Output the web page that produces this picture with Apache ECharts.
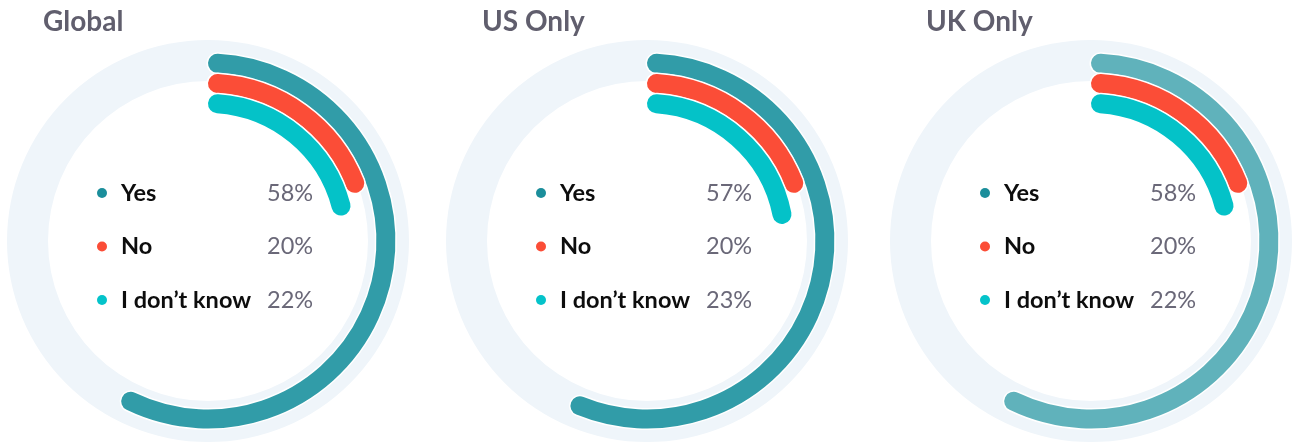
<!DOCTYPE html>
<html><head><meta charset="utf-8">
<script src="https://cdn.jsdelivr.net/npm/echarts@6/dist/echarts.min.js"></script>
<style>html,body{margin:0;padding:0;background:#fff}#c{width:1293px;height:442px}</style>
</head><body><div id="c"></div>
<script>
// ---- data ----
const chartTitles = ['Global', 'US Only', 'UK Only'];
const answers = ['Yes', 'No', 'I don\u2019t know'];
const globalValues = [58, 20, 22];
const usValues = [57, 20, 23];
const ukValues = [58, 20, 22];
const ringOrder = ['I don\u2019t know', 'No', 'Yes']; // inner -> outer

// ---- layout & style ----
const valuesByChart = [globalValues, usValues, ukValues];
const centersX = [208, 647, 1091];
const CY = 241;
const arcColors = [
  ['#319ca8', '#fb4d37', '#04c2c8'],
  ['#319ca8', '#fb4d37', '#04c2c8'],
  ['#60b2bb', '#fb4d37', '#04c2c8']
];
const dotColors = ['#1b8e9b', '#fb4d37', '#04c3ca'];
const LW = 19;
const FONT = 'Lato';
const FS = 23.5;

function makeRender(color) {
  return function (params, api) {
    const cat = api.value(0), v = api.value(1);
    const a = api.coord([cat, 0]);
    const b = api.coord([cat, v]);
    const cx = params.coordSys.cx, cy = params.coordSys.cy;
    const r = a[2];
    const cap = (LW / 2) / r;
    const s = Math.atan2(a[1] - cy, a[0] - cx) + cap;
    const e = Math.atan2(b[1] - cy, b[0] - cx) - cap;
    const shape = { cx: cx, cy: cy, r: r, startAngle: s, endAngle: e, clockwise: true };
    return {
      type: 'group',
      children: [
        { type: 'arc', shape: shape, style: { fill: 'none', stroke: '#ffffff', lineWidth: LW + 3, lineCap: 'round' } },
        { type: 'arc', shape: shape, style: { fill: 'none', stroke: color, lineWidth: LW, lineCap: 'round' } }
      ]
    };
  };
}

const polar = [], angleAxis = [], radiusAxis = [], series = [], title = [], legend = [];
chartTitles.forEach(function (t, k) {
  polar.push({ center: [centersX[k], CY], radius: [127.5, 188] });
  angleAxis.push({ polarIndex: k, type: 'value', min: 0, max: 100, startAngle: 90, clockwise: true, show: false });
  radiusAxis.push({ polarIndex: k, type: 'category', data: ringOrder, show: false });
  series.push({
    type: 'pie', silent: true, z: 1, center: [centersX[k], CY], radius: [160, 201],
    label: { show: false }, labelLine: { show: false }, emphasis: { disabled: true },
    data: [{ value: 100, name: 'track', itemStyle: { color: '#eff5fa' } }]
  });
  answers.forEach(function (ans, i) {
    series.push({
      type: 'custom', name: ans, coordinateSystem: 'polar', polarIndex: k, z: 2, silent: true,
      itemStyle: { color: dotColors[i] },
      renderItem: makeRender(arcColors[k][i]),
      data: [[ringOrder.indexOf(ans), valuesByChart[k][i]]]
    });
  });
  title.push({
    text: t, left: centersX[k] - 165, top: 8, padding: 0,
    textStyle: { fontFamily: FONT, fontSize: 28, fontWeight: 'bold', color: '#605e6d' }
  });
  legend.push({
    orient: 'vertical', left: centersX[k] - 111, top: 181, padding: 0, itemGap: 29.5,
    icon: 'circle', itemWidth: 28, itemHeight: 10, selectedMode: false,
    data: answers.map(function (a, i) { return { name: a, itemStyle: { color: dotColors[i] } }; }),
    formatter: function (name) {
      const i = answers.indexOf(name);
      return '{n|' + name + '}{p|' + valuesByChart[k][i] + '%}';
    },
    textStyle: {
      fontFamily: FONT, fontSize: FS,
      rich: {
        n: { fontFamily: FONT, fontSize: FS, fontWeight: 'bold', color: '#0d0d0d', width: 146 },
        p: { fontFamily: FONT, fontSize: FS, color: '#6a6878' }
      }
    }
  });
});

const chart = echarts.init(document.getElementById('c'), null, { renderer: 'canvas' });
chart.setOption({
  animation: false,
  title: title, legend: legend, polar: polar, angleAxis: angleAxis, radiusAxis: radiusAxis, series: series
});
</script></body></html>
